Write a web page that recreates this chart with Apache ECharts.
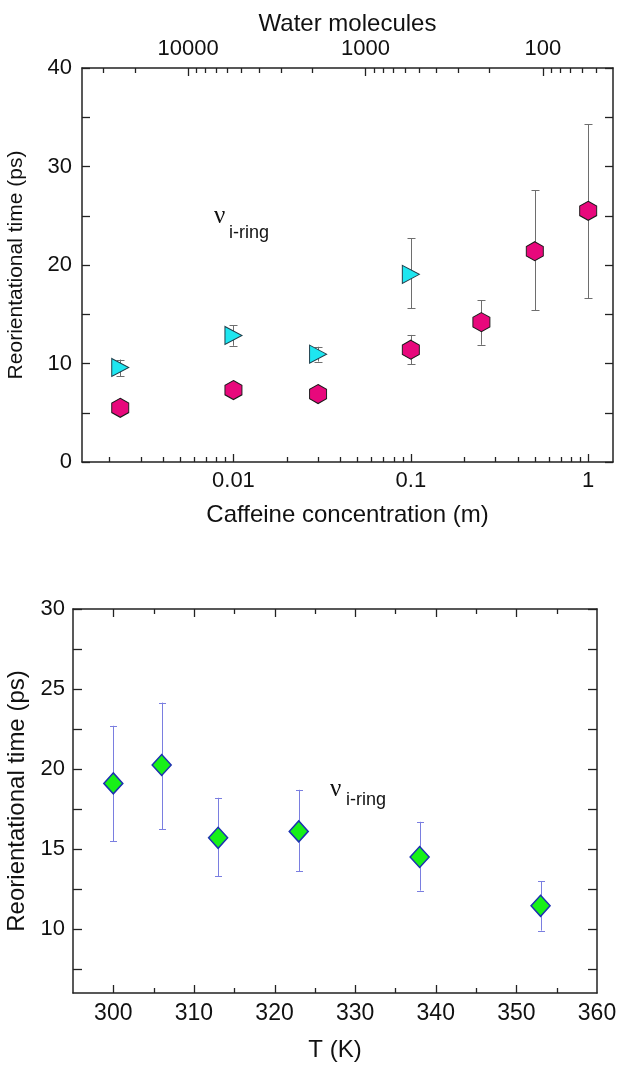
<!DOCTYPE html>
<html><head><meta charset="utf-8">
<script src="https://cdn.jsdelivr.net/npm/echarts@6/dist/echarts.min.js"></script>
<style>html,body{margin:0;padding:0;background:#fff}#c{width:620px;height:1065px}</style>
</head><body><div id="c"></div>
<script>
// ---------- Top panel: reorientational time vs caffeine concentration ----------
const concPink   = [0.0023, 0.01, 0.03, 0.1, 0.25, 0.5, 1];
const timePink   = [5.5, 7.3, 6.9, 11.4, 14.2, 21.4, 25.5];
const timePinkLo = [4.9, 6.9, 6.5, 9.9, 11.9, 15.4, 16.6];
const timePinkHi = [6.1, 7.7, 7.3, 12.9, 16.4, 27.6, 34.3];

const concCyan   = [0.0023, 0.01, 0.03, 0.1];
const timeCyan   = [9.6, 12.85, 10.95, 19.05];
const timeCyanLo = [8.7, 11.8, 10.2, 15.6];
const timeCyanHi = [10.4, 13.9, 11.7, 22.7];

const concMin = 0.0014, concMax = 1.38;
const waterPerMolal = 55.5;               // water molecules per caffeine = 55.5 / c
const concTickLabels  = [0.01, 0.1, 1];
const waterTickLabels = [10000, 1000, 100];

// ---------- Bottom panel: reorientational time vs temperature ----------
const tempK    = [300, 306, 313, 323, 338, 353];
const timeT    = [19.1, 20.25, 15.7, 16.1, 14.5, 11.45];
const timeTLo  = [15.5, 16.25, 13.3, 13.6, 12.4, 9.9];
const timeTHi  = [22.7, 24.15, 18.2, 18.7, 16.7, 13.0];
const tempTickLabels  = [300, 310, 320, 330, 340, 350, 360];
const tempMinorTicks  = [305, 315, 325, 335, 345, 355];
const timeTickLabelsB = [10, 15, 20, 25, 30];
const timeTicksB      = [7.5, 10, 12.5, 15, 17.5, 20, 22.5, 25, 27.5, 30];

const FONT = 'Liberation Sans';
const INK = '#111';
const FRAME = '#222';

function logTicks(min, max) {
  const out = [];
  for (let e = Math.floor(Math.log10(min)); e <= Math.ceil(Math.log10(max)); e++) {
    for (let k = 1; k <= 9; k++) {
      const v = k * Math.pow(10, e);
      if (v > min * 1.0001 && v < max * 0.9999) out.push([v, k === 1 ? 8 : 5]);
    }
  }
  return out;
}
function tickSeries(data, xi, yi, side, yDummy) {
  return {
    type: 'custom', xAxisIndex: xi, yAxisIndex: yi, silent: true, z: 5,
    data: data.map(d => [d[0], d[1]]),
    encode: { x: 0 },
    renderItem(params, api) {
      const cs = params.coordSys;
      const p = api.coord([api.value(0), yDummy]);
      const x = Math.round(p[0]) + 0.5;
      const len = api.value(1);
      const y0 = side === 'bottom' ? cs.y + cs.height : cs.y;
      const y1 = side === 'bottom' ? y0 - len : y0 + len;
      return { type: 'line', shape: { x1: x, y1: y0, x2: x, y2: y1 },
               style: { stroke: FRAME, lineWidth: 1.3 } };
    }
  };
}
function errSeries(xs, lo, hi, xi, yi, color, cap) {
  return {
    type: 'custom', xAxisIndex: xi, yAxisIndex: yi, silent: true, z: 2,
    data: xs.map((x, i) => [x, lo[i], hi[i]]),
    encode: { x: 0, y: [1, 2] },
    renderItem(params, api) {
      const a = api.coord([api.value(0), api.value(1)]);
      const b = api.coord([api.value(0), api.value(2)]);
      const x = Math.round(a[0]) + 0.5, h = cap / 2;
      const st = { stroke: color, lineWidth: 1 };
      return { type: 'group', children: [
        { type: 'line', shape: { x1: x, y1: a[1], x2: x, y2: b[1] }, style: st },
        { type: 'line', shape: { x1: x - h, y1: Math.round(a[1]) + 0.5, x2: x + h, y2: Math.round(a[1]) + 0.5 }, style: st },
        { type: 'line', shape: { x1: x - h, y1: Math.round(b[1]) + 0.5, x2: x + h, y2: Math.round(b[1]) + 0.5 }, style: st }
      ]};
    }
  };
}
function decadeFmt(v) {
  const e = Math.log10(v);
  if (Math.abs(e - Math.round(e)) > 1e-6) return '';
  return String(Math.pow(10, Math.round(e)));
}
const lbl = { color: INK, fontSize: 22, fontFamily: FONT };
const lblB = { color: INK, fontSize: 23, fontFamily: FONT };
const nameX = { color: INK, fontSize: 24, fontFamily: FONT };
const nameYTop = { color: INK, fontSize: 21, fontFamily: FONT };
const nameB = { color: INK, fontSize: 24, fontFamily: FONT };
const frameLine = { show: true, onZero: false, lineStyle: { color: FRAME, width: 1.5 } };

const hexagon  = 'path://M0,-10L8.66,-5L8.66,5L0,10L-8.66,5L-8.66,-5Z';
const triRight = 'path://M0,0L10,6L0,12Z';

const tempTicks = tempTickLabels.map(v => [v, 8]).concat(tempMinorTicks.map(v => [v, 5])).filter(d => d[0] < 360);

const chart = echarts.init(document.getElementById('c'), null, { renderer: 'canvas' });
chart.setOption({
  backgroundColor: '#fff',
  animation: false,
  grid: [
    { left: 82, top: 68, width: 531, height: 394, outerBoundsMode: 'none', containLabel: false },
    { left: 73, top: 609, width: 524, height: 384, outerBoundsMode: 'none', containLabel: false }
  ],
  xAxis: [
    { gridIndex: 0, type: 'log', logBase: 10, position: 'bottom', min: concMin, max: concMax,
      axisLine: frameLine, axisTick: { show: false }, splitLine: { show: false }, minorTick: { show: false },
      axisLabel: Object.assign({ margin: 8, formatter: decadeFmt }, lbl),
      name: 'Caffeine concentration (m)', nameLocation: 'middle', nameGap: 41, nameTextStyle: nameX },
    { gridIndex: 0, type: 'log', logBase: 10, position: 'top', inverse: true,
      min: waterPerMolal / concMax, max: waterPerMolal / concMin,
      axisLine: frameLine, axisTick: { show: false }, splitLine: { show: false },
      axisLabel: Object.assign({ margin: 8, formatter: decadeFmt }, lbl),
      name: 'Water molecules', nameLocation: 'middle', nameGap: 32, nameTextStyle: nameX },
    { gridIndex: 1, type: 'value', position: 'bottom', min: 295, max: 360, interval: 5,
      axisLine: frameLine, axisTick: { show: false }, splitLine: { show: false },
      axisLabel: Object.assign({ margin: 9, formatter: v => (v % 10 === 0 ? String(v) : '') }, lblB),
      name: 'T (K)', nameLocation: 'middle', nameGap: 45, nameTextStyle: nameB },
    { gridIndex: 1, type: 'value', position: 'top', min: 295, max: 360, interval: 5,
      axisLine: frameLine, axisTick: { show: false }, splitLine: { show: false }, axisLabel: { show: false } }
  ],
  yAxis: [
    { gridIndex: 0, type: 'value', position: 'left', min: 0, max: 40, interval: 5,
      axisLine: frameLine, axisTick: { show: true, inside: true, length: 8, lineStyle: { color: FRAME, width: 1.3 } },
      splitLine: { show: false },
      axisLabel: Object.assign({ margin: 10, formatter: v => (v % 10 === 0 ? String(v) : '') }, lbl),
      name: 'Reorientational time (ps)', nameLocation: 'middle', nameGap: 55, nameTextStyle: nameYTop },
    { gridIndex: 0, type: 'value', position: 'right', min: 0, max: 40, interval: 5,
      axisLine: frameLine, axisTick: { show: true, inside: true, length: 8, lineStyle: { color: FRAME, width: 1.3 } },
      splitLine: { show: false }, axisLabel: { show: false } },
    { gridIndex: 1, type: 'value', position: 'left', min: 6, max: 30,
      axisLine: frameLine,
      axisTick: { show: true, inside: true, length: 9, customValues: timeTicksB, lineStyle: { color: FRAME, width: 1.3 } },
      splitLine: { show: false },
      axisLabel: Object.assign({ margin: 8, customValues: timeTickLabelsB }, lbl),
      name: 'Reorientational time (ps)', nameLocation: 'middle', nameGap: 38, nameTextStyle: nameB },
    { gridIndex: 1, type: 'value', position: 'right', min: 6, max: 30,
      axisLine: frameLine,
      axisTick: { show: true, inside: true, length: 9, customValues: timeTicksB, lineStyle: { color: FRAME, width: 1.3 } },
      splitLine: { show: false }, axisLabel: { show: false } }
  ],
  graphic: [
    { type: 'text', x: 214, y: 216.5, style: { text: 'ν', fontSize: 25, fontFamily: 'Liberation Serif', fill: INK, verticalAlign: 'middle' } },
    { type: 'text', x: 229, y: 233, style: { text: 'i-ring', fontSize: 18, fontFamily: FONT, fill: INK, verticalAlign: 'middle' } },
    { type: 'text', x: 330, y: 789.5, style: { text: 'ν', fontSize: 25, fontFamily: 'Liberation Serif', fill: INK, verticalAlign: 'middle' } },
    { type: 'text', x: 346, y: 800, style: { text: 'i-ring', fontSize: 18, fontFamily: FONT, fill: INK, verticalAlign: 'middle' } }
  ],
  series: [
    tickSeries(logTicks(concMin, concMax), 0, 0, 'bottom', 10),
    tickSeries(logTicks(waterPerMolal / concMax, waterPerMolal / concMin), 1, 0, 'top', 10),
    tickSeries(tempTicks, 2, 2, 'bottom', 10),
    tickSeries(tempTicks, 3, 2, 'top', 10),
    errSeries(concPink, timePinkLo, timePinkHi, 0, 0, '#6e6e6e', 8),
    errSeries(concCyan, timeCyanLo, timeCyanHi, 0, 0, '#6e6e6e', 8),
    errSeries(tempK, timeTLo, timeTHi, 2, 2, '#7a7ee0', 7),
    { type: 'scatter', xAxisIndex: 0, yAxisIndex: 0, z: 3, symbol: hexagon, symbolSize: [17, 19],
      itemStyle: { color: '#e8087c', borderColor: '#1a1a1a', borderWidth: 1, opacity: 1 },
      data: concPink.map((c, i) => [c, timePink[i]]) },
    { type: 'scatter', xAxisIndex: 0, yAxisIndex: 0, z: 3, symbol: triRight, symbolSize: [17, 18],
      itemStyle: { color: '#1ee6f0', borderColor: '#1f3b48', borderWidth: 1, opacity: 1 },
      data: concCyan.map((c, i) => [c, timeCyan[i]]) },
    { type: 'scatter', xAxisIndex: 2, yAxisIndex: 2, z: 3, symbol: 'diamond', symbolSize: [19, 21],
      itemStyle: { color: '#18f018', borderColor: '#1c30b0', borderWidth: 1.5, opacity: 1 },
      data: tempK.map((t, i) => [t, timeT[i]]) }
  ]
});
</script></body></html>
